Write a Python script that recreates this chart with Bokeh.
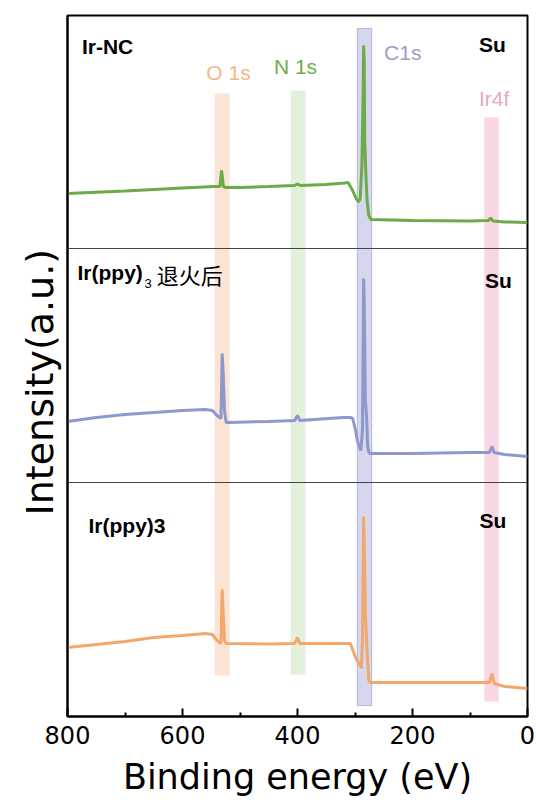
from bokeh.plotting import figure
from bokeh.models import Range1d, FixedTicker, Span, Title
from bokeh.core.properties import value
from bokeh.embed import file_html
from bokeh.resources import INLINE

# ---------------- data ----------------
# Ir-NC (green)
energy_nc = [800, 700, 600, 545, 535, 532, 529, 525, 500, 450, 405, 400, 395, 350, 318, 312,
             305, 298, 294, 291, 288, 286, 285, 284, 283, 281, 279, 276, 272, 200, 100, 68, 64,
             60, 40, 0]
inten_nc = [523, 525.5, 528.5, 530, 530, 546, 530, 529, 529, 530, 531, 532.5, 531, 532, 533.5, 534,
            527, 518, 514.5, 518, 551, 616, 671, 656, 573, 541, 516, 501, 497, 496, 495.5, 496, 498.5,
            495.5, 494.5, 494]

# Ir(ppy)3 annealed (purple)
energy_an = [800, 750, 700, 650, 600, 560, 548, 540, 533, 531, 529, 527, 524, 520, 450, 405, 400,
             396, 320, 308, 304, 299, 296, 290, 287, 285, 284, 282, 280, 278, 276, 273, 200, 100,
             66, 62, 58, 40, 0]
inten_an = [295, 299, 302, 304, 306, 307, 306, 301, 298, 363, 341, 306, 294, 294, 295, 296, 301,
            296, 299, 299, 298, 286, 276, 266, 286, 438, 416, 316, 301, 271, 264, 263, 263, 264,
            264, 270, 264, 262, 260]

# Ir(ppy)3 (orange)
energy_pp = [800, 750, 700, 650, 600, 560, 548, 540, 533, 531, 529, 527, 524, 450, 405, 400, 396,
             320, 308, 299, 292, 289, 287, 285, 284, 282, 279, 276, 273, 200, 100, 66, 62, 58, 40, 0]
inten_pp = [69, 72, 75, 79, 81, 83, 82, 76, 73, 127, 101, 76, 73, 72.5, 73, 79, 73,
            73, 73, 59, 52, 48, 76, 200, 176, 103, 66, 36, 34, 34, 34, 34, 43, 33, 30, 28]

# highlighted peak regions (eV)
band_names = ["O 1s", "N 1s", "C1s", "Ir4f"]
band_left = [544, 412, 296, 75]
band_right = [518, 386, 271, 50]
band_bottom = [41, 42, 11, 15]
band_top = [623, 626, 688, 599]

divider_levels = [468, 234]
x_ticks = [800, 600, 400, 200, 0]
x_minor = [700, 500, 300, 100]

# ---------------- styles ----------------
band_fill = ["#f4b183", "#a9d18e", "#aeb0dc", "#f0a3c0"]
band_alpha = [0.35, 0.32, 0.5, 0.45]
band_text = ["#f0b88a", "#70ad47", "#9a9dc8", "#eba8be"]

p = figure(width=536, height=805, x_range=Range1d(800, 0), y_range=Range1d(0, 701),
           output_backend="svg", toolbar_location=None,
           min_border_left=67, min_border_right=9, min_border_top=15, min_border_bottom=89)

p.xgrid.visible = False
p.ygrid.visible = False
p.outline_line_color = "black"
p.outline_line_width = 2
p.background_fill_color = "white"
p.border_fill_color = "white"

# bands
p.quad(left=band_left, right=band_right, bottom=band_bottom, top=band_top,
       fill_color=band_fill, fill_alpha=band_alpha, line_color=None)
p.quad(left=[band_left[2]], right=[band_right[2]], bottom=[band_bottom[2]], top=[band_top[2]],
       fill_color=None, line_color="#b4b6de", line_width=1)

for lv in divider_levels:
    p.add_layout(Span(location=lv, dimension="width", line_color="#444444", line_width=1.2))

p.line(energy_nc, inten_nc, line_color="#6cab47", line_width=3)
p.line(energy_an, inten_an, line_color="#8e98cc", line_width=3)
p.line(energy_pp, inten_pp, line_color="#f2a86c", line_width=3)

# band labels
label_x = [520, 403.5, 217, 58]
label_y = [644, 650, 664, 618.5]
p.text(x=label_x, y=label_y, text=band_names, text_color=band_text,
       text_font=value("Liberation Sans"), text_font_size="21px",
       text_align="center", text_baseline="middle")

# sample labels
p.text(x=[775, 763.5], y=[670, 191], text=["Ir-NC", "Ir(ppy)3"], text_color="black",
       text_font=value("Liberation Sans"), text_font_size="21px", text_font_style="bold",
       text_align="left", text_baseline="middle")
p.text(x=[782.6], y=[444.5], text=["Ir(ppy)"], text_color="black",
       text_font=value("Liberation Sans"), text_font_size="21px", text_font_style="bold",
       text_align="left", text_baseline="middle")
p.text(x=[666], y=[433.5], text=["3"], text_color="black",
       text_font=value("Liberation Sans"), text_font_size="13px",
       text_align="left", text_baseline="middle")
p.text(x=[645], y=[443], text=["退火后"], text_color="black",
       text_font=value("Noto Sans CJK SC"), text_font_size="22px",
       text_align="left", text_baseline="middle")
p.text(x=[61, 50.4, 60], y=[672, 436.5, 196.5], text=["Su", "Su", "Su"], text_color="black",
       text_font=value("Liberation Sans"), text_font_size="21px", text_font_style="bold",
       text_align="center", text_baseline="middle")

# axes
p.xaxis.ticker = FixedTicker(ticks=x_ticks, minor_ticks=x_minor)
p.xaxis.axis_label = "Binding energy (eV)"
p.xaxis.axis_label_text_font = "DejaVu Sans"
p.xaxis.axis_label_text_font_size = "35px"
p.xaxis.axis_label_text_font_style = "normal"
p.xaxis.axis_label_text_color = "black"
p.xaxis.axis_label_standoff = 10
p.xaxis.major_label_text_font = "DejaVu Sans"
p.xaxis.major_label_text_font_size = "24px"
p.xaxis.major_label_standoff = 9
p.xaxis.major_tick_in = 8
p.xaxis.major_tick_out = 0
p.xaxis.minor_tick_in = 4
p.xaxis.minor_tick_out = 0
p.xaxis.major_tick_line_width = 2
p.xaxis.minor_tick_line_width = 2
p.xaxis.axis_line_width = 2
p.xaxis.major_label_text_color = "black"

p.yaxis.ticker = FixedTicker(ticks=[])
p.yaxis.axis_line_width = 2
p.yaxis.major_tick_line_color = None
p.yaxis.minor_tick_line_color = None

# y-axis title as a left-side title, shifted along the axis
p.add_layout(Title(text="Intensity(a.u.)", align="left", offset=201, standoff=8,
                   vertical_align="top",
                   text_font="DejaVu Sans", text_font_size="38px", text_font_style="normal",
                   text_color="black"), "left")

open("out.html", "w").write(file_html(p, INLINE))
